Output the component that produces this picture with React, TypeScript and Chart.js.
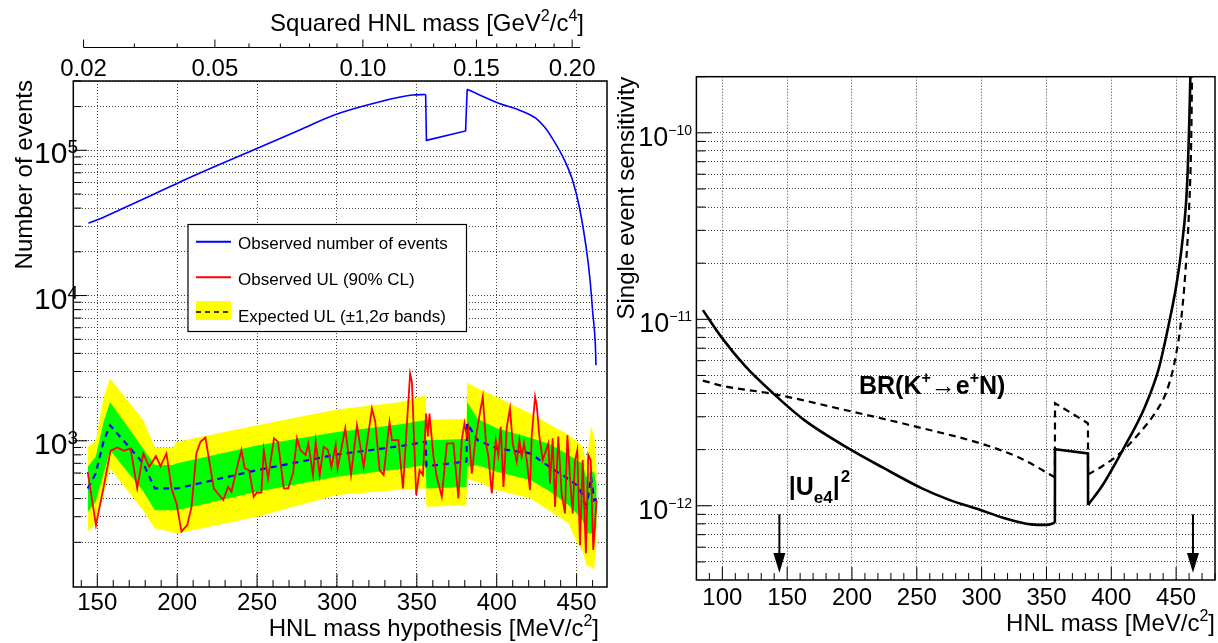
import { useEffect, useRef } from "react";
import { Chart, ChartConfiguration, ChartDataset, Plugin, registerables } from "chart.js";

Chart.register(...registerables);

const FONT = "'Liberation Sans', Arial, Helvetica, sans-serif";

// ---------- left panel: observed events, observed and expected upper limits ----------
const obsMass = [144.5, 151.7, 164.2, 183, 197.5, 210, 247.3, 276.7, 298.3, 322.6, 347, 355.5, 356, 380.5, 381.5, 401.7, 414.2, 424.6, 429.8, 435, 442.3, 447.5, 451.7, 455.9, 458.4, 460, 461.7, 462.1];
const obsEvents = [3.15e4, 3.38e4, 3.9e4, 4.85e4, 5.75e4, 6.65e4, 1.0e5, 1.38e5, 1.75e5, 2.1e5, 2.4e5, 2.42e5, 1.17e5, 1.36e5, 2.63e5, 2.1e5, 1.89e5, 1.66e5, 1.45e5, 1.2e5, 8.6e4, 6.2e4, 4.07e4, 2.16e4, 1.28e4, 7.8e3, 4.6e3, 3.32e3];
const obsStep = [355.5, 381.5];

const ulMass = [
  144, 149.2, 153.8, 158.3, 162.5, 166.7, 170.8, 175, 178.8, 182.5, 186.7, 189.6, 193.3, 196.5, 199.6, 202.7, 206.3, 209, 212, 214.6,
  217.7, 222.9, 228.8, 231.9, 234, 237.1, 240.2, 242.3, 245, 247.9, 250, 252.7, 254.2, 256.9, 260.6, 263.1, 266.7, 269.4, 272.5, 275,
  277.1, 280.4, 282.1, 285, 286.7, 289.2, 291.7, 294.4, 296.5, 299.2, 300.4, 305.2, 308.8, 312.5, 316.7, 321.9, 324, 326.7, 329.2, 332.9,
  334.4, 338.5, 341.3, 343.8, 345.8, 346.9, 349.6, 351.7, 353.8, 355.8, 356.9, 357.9, 360.4, 362.5, 365.6, 368.8, 372.9, 376, 378.1, 379.8,
  381.3, 382.3, 384.4, 386.5, 389.2, 391.3, 393.3, 394.8, 396.9, 399.4, 401, 402.5, 404.2, 406.3, 408.3, 410, 412.5, 414.2, 415.6, 417.1,
  418.8, 420.8, 421.9, 424, 425, 426.7, 428.8, 432.3, 433.3, 435, 436.5, 438.5, 440.6, 442.7, 444.2, 445.8, 447.5, 449, 450.4, 452.1,
  453.8, 455.8, 457.3, 458.8, 460.4, 462.5,
];
const ulObserved = [
  612, 263, 470, 853, 900, 853, 886, 470, 818, 662, 784, 670, 818, 470, 371, 237, 263, 351, 818, 985,
  1050, 470, 391, 482, 446, 628, 863, 646, 628, 412, 441, 440, 863, 551, 1040, 985, 470, 470, 595, 1040,
  863, 797, 959, 581, 985, 581, 909, 863, 662, 934, 646, 1220, 581, 1280, 662, 1670, 1350, 628, 581, 1350,
  1010, 1010, 470, 1320, 2900, 2550, 423, 628, 581, 1540, 1070, 1540, 776, 565, 412, 959, 959, 401, 1010, 1320,
  1070, 1220, 595, 985, 1500, 2010, 959, 776, 434, 1010, 797, 1250, 482, 1250, 1670, 959, 717, 1010, 776, 959,
  736, 457, 1090, 2010, 1760, 1070, 736, 959, 508, 1040, 351, 1070, 434, 316, 1090, 565, 316, 736, 863, 191,
  736, 168, 797, 736, 177, 391,
];

const bandMass = [144, 149, 154, 158, 178.75, 186, 197, 200, 250, 300, 340, 355.5, 356, 381, 381.5, 388, 400, 421, 433, 445, 450, 453.8, 456, 459, 461, 462.5];
const band2Hi = [910, 1000, 2000, 2690, 1390, 900, 900, 985, 1280, 1640, 1850, 2060, 1390, 1420, 2510, 2300, 2000, 1540, 1300, 1100, 1000, 910, 700, 1250, 1100, 700];
const band1Hi = [662, 776, 1350, 1850, 880, 681, 681, 700, 930, 1150, 1300, 1390, 1010, 1030, 1850, 1420, 1220, 1050, 950, 800, 736, 700, 560, 630, 600, 500];
const bandMedian = [470, 595, 1000, 1280, 700, 470, 470, 470, 628, 805, 920, 985, 669, 720, 1320, 1010, 886, 820, 662, 545, 495, 423, 334, 565, 389, 400];
const band1Lo = [324, 380, 600, 862, 450, 333, 333, 333, 446, 565, 640, 681, 470, 480, 662, 680, 612, 537, 450, 360, 316, 280, 230, 230, 230, 250];
const band2Lo = [237, 270, 430, 646, 330, 250, 235, 230, 300, 423, 460, 470, 351, 360, 551, 520, 457, 402, 330, 270, 200, 175, 140, 135, 129, 200];

const leftXMajor = [150, 200, 250, 300, 350, 400, 450];
const leftDecades = [1e3, 1e4, 1e5];
const leftDecadeLabels = ["3", "4", "5"];

// top axis: squared HNL mass in GeV^2/c^4
const topMajor = [0.02, 0.05, 0.1, 0.15, 0.2];
const topLabels = ["0.02", "0.05", "0.10", "0.15", "0.20"];
const topMinor = [0.03, 0.04, 0.06, 0.07, 0.08, 0.09, 0.11, 0.12, 0.13, 0.14, 0.16, 0.17, 0.18, 0.19];
const topAxisEnd = 0.2045;

// ---------- right panel: single event sensitivity ----------
const sesMass = [85, 100, 118, 139, 163, 199, 224, 254, 275, 299, 317, 338, 350, 356.5, 356.6, 382, 382.1, 393, 409, 426, 436.5, 444.2, 450, 454.5, 458.4, 460.2, 461, 462];
const sesUe4 = [1.12e-11, 7.9e-12, 5.57e-12, 4.02e-12, 2.89e-12, 2.0e-12, 1.6e-12, 1.24e-12, 1.076e-12, 9.5e-13, 8.6e-13, 7.95e-13, 7.9e-13, 8.1e-13, 2.01e-12, 1.91e-12, 1.01e-12, 1.28e-12, 2.0e-12, 3.4e-12, 5.4e-12, 9.3e-12, 1.5e-11, 2.5e-11, 5.13e-11, 1.17e-10, 2.0e-10, 3.0e-10];
const brMass = [85, 100, 139, 200, 250, 300, 330, 356.5, 356.6, 382, 382.1, 393, 403, 409, 418.4, 436.5, 442, 446.8, 450, 453.2, 457.1, 460.2, 461.7, 462.3, 462.8];
const brValues = [4.69e-12, 4.4e-12, 3.98e-12, 3.2e-12, 2.65e-12, 2.15e-12, 1.8e-12, 1.42e-12, 3.55e-12, 2.77e-12, 1.47e-12, 1.63e-12, 1.82e-12, 1.98e-12, 2.31e-12, 3.36e-12, 4.0e-12, 5.1e-12, 6.5e-12, 9.0e-12, 1.77e-11, 4.17e-11, 9.5e-11, 2.0e-10, 3.0e-10];
const sesStep = [356.5, 382.1];

const rightXMajor = [100, 150, 200, 250, 300, 350, 400, 450];
const rightDecades = [1e-12, 1e-11, 1e-10];
const rightDecadeLabels = ["\u221212", "\u221211", "\u221210"];
const arrowMass = [144, 463];

type Seg = { t: string; sup?: boolean; sub?: boolean };
type Pt = { x: number; y: number };

const xy = (xs: number[], ys: number[]) => xs.map((x, i) => ({ x, y: ys[i] }));

// split a curve into smooth / step / smooth pieces around a rectangular step
const splitAtStep = (xs: number[], ys: number[], step: number[]): [Pt[], Pt[], Pt[]] => {
  const pts = xy(xs, ys);
  const a = xs.indexOf(step[0]);
  const b = xs.indexOf(step[1]);
  return [pts.slice(0, a + 1), pts.slice(a, b + 1), pts.slice(b)];
};

const stepTicks = (from: number, to: number, step: number) => {
  const out: number[] = [];
  for (let v = from; v <= to + 1e-9; v += step) out.push(Math.round(v * 1000) / 1000);
  return out;
};

const logTicks = (min: number, max: number) => {
  const out: number[] = [];
  for (let e = Math.floor(Math.log10(min)); e <= Math.ceil(Math.log10(max)); e++) {
    for (let d = 1; d <= 9; d++) {
      const v = d * Math.pow(10, e);
      if (v >= min * 0.999 && v <= max * 1.001) out.push(v);
    }
  }
  return out;
};

const isDecade = (v: number) => Math.abs(Math.log10(v) - Math.round(Math.log10(v))) < 1e-6;

function drawRich(ctx: CanvasRenderingContext2D, segs: Seg[], x: number, y: number, size: number, align: "left" | "right" | "center", bold = false, small = Math.round(size * 0.68)) {
  const f = (s: number) => `${bold ? "bold " : ""}${s}px ${FONT}`;
  const widths = segs.map((s) => {
    ctx.font = f(s.sup || s.sub ? small : size);
    return ctx.measureText(s.t).width;
  });
  const total = widths.reduce((a, b) => a + b, 0);
  let cx = align === "right" ? x - total : align === "center" ? x - total / 2 : x;
  ctx.textAlign = "left";
  ctx.textBaseline = "alphabetic";
  segs.forEach((s, i) => {
    ctx.font = f(s.sup || s.sub ? small : size);
    const dy = s.sup ? -size * 0.42 : s.sub ? size * 0.3 : 0;
    ctx.fillText(s.t, cx, y + dy);
    cx += widths[i];
  });
}

function drawPow(ctx: CanvasRenderingContext2D, right: number, tickY: number, exp: string, big: number, small: number, baseDy: number, supDy: number) {
  ctx.textAlign = "left";
  ctx.textBaseline = "alphabetic";
  ctx.font = `${small}px ${FONT}`;
  const ws = ctx.measureText(exp).width;
  ctx.font = `${big}px ${FONT}`;
  const wb = ctx.measureText("10").width;
  ctx.fillText("10", right - ws - wb, tickY + baseDy);
  ctx.font = `${small}px ${FONT}`;
  ctx.fillText(exp, right - ws, tickY + supDy);
}

function line(ctx: CanvasRenderingContext2D, x1: number, y1: number, x2: number, y2: number) {
  ctx.beginPath();
  ctx.moveTo(x1, y1);
  ctx.lineTo(x2, y2);
  ctx.stroke();
}

const gridStyle = {
  grid: { color: "rgba(0,0,0,0.75)", lineWidth: 1, drawTicks: false },
  border: { display: false, dash: [1, 2] },
  ticks: { display: false },
};

const curvePieces = (pieces: [Pt[], Pt[], Pt[]], style: Partial<ChartDataset<"line">>): ChartDataset<"line">[] =>
  pieces.map((data, i) => ({
    data,
    pointRadius: 0,
    fill: false,
    cubicInterpolationMode: i === 1 ? "default" : "monotone",
    tension: 0,
    ...style,
  })) as ChartDataset<"line">[];

const leftOverlay: Plugin<"line"> = {
  id: "leftOverlay",
  afterDraw(chart) {
    const { ctx, chartArea: a } = chart;
    const x = chart.scales.x;
    const y = chart.scales.y;
    ctx.save();
    ctx.fillStyle = "#000";
    ctx.strokeStyle = "#000";
    ctx.setLineDash([]);

    // frame
    ctx.lineWidth = 1.5;
    ctx.strokeRect(a.left, a.top, a.right - a.left, a.bottom - a.top);

    // x ticks (inside, bottom)
    ctx.lineWidth = 1;
    stepTicks(140, 460, 10).forEach((v) => {
      const px = x.getPixelForValue(v);
      const len = leftXMajor.includes(v) ? 13 : 7;
      line(ctx, px, a.bottom, px, a.bottom - len);
    });
    // y ticks (inside, left)
    logTicks(200, 3e5).forEach((v) => {
      const py = y.getPixelForValue(v);
      const len = isDecade(v) ? 14 : 8;
      line(ctx, a.left, py, a.left + len, py);
    });

    // tick labels
    ctx.font = `24px ${FONT}`;
    ctx.textAlign = "center";
    ctx.textBaseline = "alphabetic";
    leftXMajor.forEach((v) => ctx.fillText(String(v), x.getPixelForValue(v), 610));
    leftDecades.forEach((v, i) => drawPow(ctx, 78, y.getPixelForValue(v), leftDecadeLabels[i], 30, 19, 13, 3));

    // axis titles
    drawRich(ctx, [{ t: "HNL mass hypothesis [MeV/c" }, { t: "2", sup: true }, { t: "]" }], 599, 636, 24, "right");
    ctx.save();
    ctx.translate(31.5, 80);
    ctx.rotate(-Math.PI / 2);
    drawRich(ctx, [{ t: "Number of events" }], 0, 0, 24, "right");
    ctx.restore();

    // top axis: squared mass
    const toPx = (m2: number) => x.getPixelForValue(Math.sqrt(m2) * 1000);
    const axisY = 47.5;
    line(ctx, toPx(topMajor[0]), axisY, toPx(topAxisEnd), axisY);
    topMajor.forEach((v) => line(ctx, toPx(v), axisY, toPx(v), axisY - 8));
    topMinor.forEach((v) => line(ctx, toPx(v), axisY, toPx(v), axisY - 4));
    ctx.font = `24px ${FONT}`;
    ctx.textAlign = "center";
    topMajor.forEach((v, i) => ctx.fillText(topLabels[i], toPx(v), 76));
    drawRich(ctx, [{ t: "Squared HNL mass [GeV" }, { t: "2", sup: true }, { t: "/c" }, { t: "4", sup: true }, { t: "]" }], 584, 31, 24, "right");

    // legend
    ctx.fillStyle = "#fff";
    ctx.fillRect(188, 224.5, 278.5, 107);
    ctx.strokeStyle = "#000";
    ctx.lineWidth = 1.2;
    ctx.strokeRect(188, 224.5, 278.5, 107);
    ctx.lineWidth = 2;
    ctx.strokeStyle = "#0000ff";
    line(ctx, 196, 241.7, 231, 241.7);
    ctx.strokeStyle = "#ff0000";
    line(ctx, 196, 277.3, 231, 277.3);
    ctx.fillStyle = "#ffff00";
    ctx.fillRect(196, 301, 35, 19);
    ctx.strokeStyle = "#000";
    ctx.lineWidth = 1.5;
    ctx.setLineDash([5, 4]);
    line(ctx, 196, 312, 231, 312);
    ctx.setLineDash([]);
    ctx.fillStyle = "#000";
    drawRich(ctx, [{ t: "Observed number of events" }], 238, 249.3, 17, "left");
    drawRich(ctx, [{ t: "Observed UL (90% CL)" }], 238, 285, 17, "left");
    drawRich(ctx, [{ t: "Expected UL (\u00b11,2\u03c3 bands)" }], 238, 321.5, 17, "left");
    ctx.restore();
  },
};

const rightOverlay: Plugin<"line"> = {
  id: "rightOverlay",
  afterDraw(chart) {
    const { ctx, chartArea: a } = chart;
    const x = chart.scales.x;
    const y = chart.scales.y;
    ctx.save();
    ctx.fillStyle = "#000";
    ctx.strokeStyle = "#000";
    ctx.setLineDash([]);

    ctx.lineWidth = 1.5;
    ctx.strokeRect(a.left, a.top, a.right - a.left, a.bottom - a.top);

    ctx.lineWidth = 1;
    stepTicks(90, 480, 10).forEach((v) => {
      const px = x.getPixelForValue(v);
      const len = rightXMajor.includes(v) ? 13 : 7;
      line(ctx, px, a.bottom, px, a.bottom - len);
    });
    logTicks(5e-13, 2e-10).forEach((v) => {
      const py = y.getPixelForValue(v);
      const len = isDecade(v) ? 15 : 9;
      line(ctx, a.left, py, a.left + len, py);
    });

    ctx.font = `24px ${FONT}`;
    ctx.textAlign = "center";
    ctx.textBaseline = "alphabetic";
    rightXMajor.forEach((v) => ctx.fillText(String(v), x.getPixelForValue(v), 605));
    rightDecades.forEach((v, i) => drawPow(ctx, 82, y.getPixelForValue(v), rightDecadeLabels[i], 27, 14, 13, 2));

    drawRich(ctx, [{ t: "HNL mass [MeV/c" }, { t: "2", sup: true }, { t: "]" }], a.right, 631, 24, "right");
    ctx.save();
    ctx.translate(24, a.top);
    ctx.rotate(-Math.PI / 2);
    drawRich(ctx, [{ t: "Single event sensitivity" }], 0, 0, 24, "right");
    ctx.restore();

    // curve labels
    drawRich(ctx, [{ t: "BR(K" }, { t: "+", sup: true }, { t: "\u2192e" }, { t: "+", sup: true }, { t: "N)" }], x.getPixelForValue(205.4), y.getPixelForValue(4.0e-12), 25, "left", true, 16);
    const ux = x.getPixelForValue(151.2);
    const uy = y.getPixelForValue(1.145e-12);
    ctx.font = `bold 25px ${FONT}`;
    ctx.textAlign = "left";
    ctx.fillText("|U", ux, uy);
    const w1 = ctx.measureText("|U").width;
    ctx.font = `bold 17px ${FONT}`;
    ctx.fillText("e4", ux + w1, uy + 8);
    const w2 = ctx.measureText("e4").width;
    ctx.font = `bold 25px ${FONT}`;
    ctx.fillText("|", ux + w1 + w2, uy);
    const w3 = ctx.measureText("|").width;
    ctx.font = `bold 17px ${FONT}`;
    ctx.fillText("2", ux + w1 + w2 + w3 + 1, uy - 13);

    // arrows marking the search range
    ctx.lineWidth = 2;
    arrowMass.forEach((m) => {
      const px = x.getPixelForValue(m);
      const top = y.getPixelForValue(9e-13);
      const head = y.getPixelForValue(5.58e-13);
      const tip = y.getPixelForValue(4.37e-13);
      line(ctx, px, top, px, head);
      ctx.beginPath();
      ctx.moveTo(px - 6, head);
      ctx.lineTo(px + 6, head);
      ctx.lineTo(px, tip);
      ctx.closePath();
      ctx.fill();
    });
    ctx.restore();
  },
};

const App = () => {
  const leftRef = useRef<HTMLCanvasElement | null>(null);
  const rightRef = useRef<HTMLCanvasElement | null>(null);

  useEffect(() => {
    if (!leftRef.current || !rightRef.current) return;

    const leftYTicks = logTicks(200, 3e5);
    const leftConfig: ChartConfiguration<"line"> = {
      type: "line",
      data: {
        datasets: [
          ...curvePieces(splitAtStep(obsMass, obsEvents, obsStep), { borderColor: "#0000ff", borderWidth: 1.6 }),
          { data: xy(ulMass, ulObserved), borderColor: "#ff0000", borderWidth: 1.8, pointRadius: 0, fill: false },
          { data: xy(bandMass, bandMedian), borderColor: "#0000ff", borderWidth: 2.2, borderDash: [6, 5], pointRadius: 0, fill: false },
          { data: xy(bandMass, band1Hi), borderWidth: 0, borderColor: "rgba(0,0,0,0)", backgroundColor: "#00ff00", pointRadius: 0, fill: "+1" },
          { data: xy(bandMass, band1Lo), borderWidth: 0, borderColor: "rgba(0,0,0,0)", pointRadius: 0, fill: false },
          { data: xy(bandMass, band2Hi), borderWidth: 0, borderColor: "rgba(0,0,0,0)", backgroundColor: "#ffff00", pointRadius: 0, fill: "+1" },
          { data: xy(bandMass, band2Lo), borderWidth: 0, borderColor: "rgba(0,0,0,0)", pointRadius: 0, fill: false },
        ],
      },
      options: {
        responsive: true,
        maintainAspectRatio: false,
        animation: false,
        events: [],
        layout: { padding: { left: 0, right: 3, top: 81, bottom: 0 } },
        plugins: { legend: { display: false }, tooltip: { enabled: false } },
        scales: {
          x: {
            type: "linear",
            min: 135,
            max: 469,
            ...gridStyle,
            afterBuildTicks: (s) => {
              s.ticks = leftXMajor.map((value) => ({ value }));
            },
            afterFit: (s) => {
              s.height = 56;
            },
          },
          y: {
            type: "logarithmic",
            min: 98.5,
            max: 3e5,
            ...gridStyle,
            afterBuildTicks: (s) => {
              s.ticks = leftYTicks.map((value) => ({ value }));
            },
            afterFit: (s) => {
              s.width = 73.3;
            },
          },
        },
      },
      plugins: [leftOverlay],
    };

    const rightYTicks = logTicks(5e-13, 1e-10);
    const rightConfig: ChartConfiguration<"line"> = {
      type: "line",
      data: {
        datasets: [
          ...curvePieces(splitAtStep(sesMass, sesUe4, sesStep), { borderColor: "#000", borderWidth: 2.6 }),
          ...curvePieces(splitAtStep(brMass, brValues, sesStep), { borderColor: "#000", borderWidth: 2.2, borderDash: [7, 5] }),
        ],
      },
      options: {
        responsive: true,
        maintainAspectRatio: false,
        animation: false,
        events: [],
        layout: { padding: { left: 0, right: 3, top: 76.7, bottom: 0 } },
        plugins: { legend: { display: false }, tooltip: { enabled: false } },
        scales: {
          x: {
            type: "linear",
            min: 80,
            max: 480,
            ...gridStyle,
            afterBuildTicks: (s) => {
              s.ticks = rightXMajor.map((value) => ({ value }));
            },
            afterFit: (s) => {
              s.height = 63;
            },
          },
          y: {
            type: "logarithmic",
            min: 4e-13,
            max: 2e-10,
            ...gridStyle,
            afterBuildTicks: (s) => {
              s.ticks = rightYTicks.map((value) => ({ value }));
            },
            afterFit: (s) => {
              s.width = 86.4;
            },
          },
        },
      },
      plugins: [rightOverlay],
    };

    const left = new Chart(leftRef.current, leftConfig);
    const right = new Chart(rightRef.current, rightConfig);

    return () => {
      left.destroy();
      right.destroy();
    };
  }, []);

  return (
    <div style={{ position: "fixed", left: 0, top: 0, width: 1218, height: 643, background: "#fff" }}>
      <div style={{ position: "absolute", left: 0, top: 0, width: 610, height: 643 }}>
        <canvas ref={leftRef} />
      </div>
      <div style={{ position: "absolute", left: 610, top: 0, width: 608, height: 643 }}>
        <canvas ref={rightRef} />
      </div>
    </div>
  );
};

export default App;
